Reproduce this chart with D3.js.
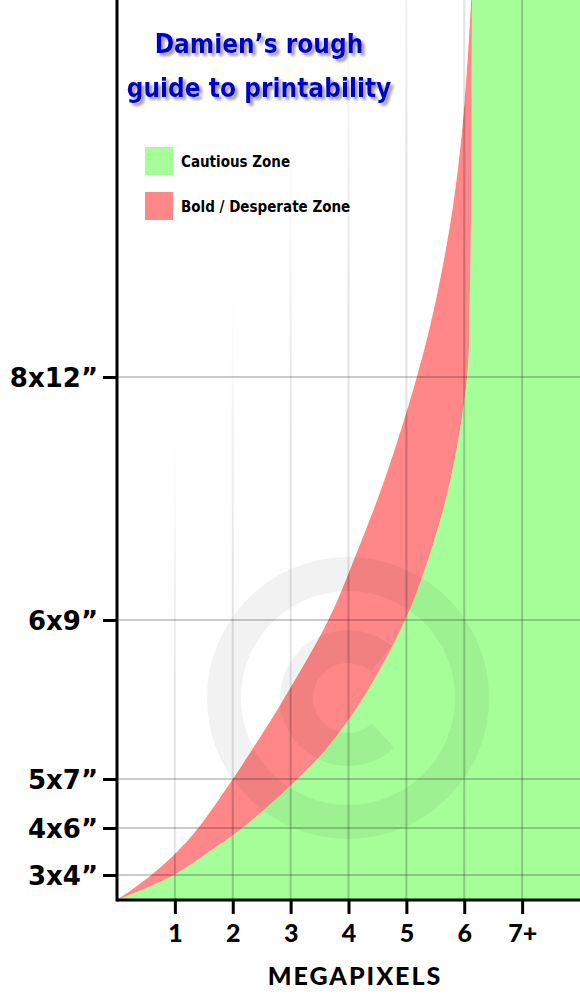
<!DOCTYPE html>
<html><head><meta charset="utf-8">
<script src="https://cdn.jsdelivr.net/npm/d3@7"></script>
<style>body{margin:0;background:#fff} svg{display:block}</style>
</head><body><svg id="c" width="580" height="1000"></svg>
<script>
// print-size level (vertical position index) and megapixels needed at that level
const printLevels = [0, 0.96, 1.96, 2.96, 4.84, 6, 8, 11.2, 14, 17, 20.92, 24, 28, 32, 36];
const boldMP      = [0, 0.57, 1.05, 1.43, 2.0, 2.33, 2.87, 3.65, 4.16, 4.65, 5.18, 5.51, 5.82, 6.01, 6.12];
const cautiousMP  = [0, 0.95, 1.61, 2.21, 3.12, 3.6, 4.23, 4.98, 5.43, 5.78, 6.05, 6.095, 6.12, 6.13, 6.135];
const xTickValues = [1, 2, 3, 4, 5, 6, 7];
const xTickLabels = ["1", "2", "3", "4", "5", "6", "7+"];
const yTickValues = [1, 2.88, 4.84, 11.2, 20.92];
const yTickLabels = ["3x4\u201D", "4x6\u201D", "5x7\u201D", "6x9\u201D", "8x12\u201D"];
const legendLabels = ["Cautious Zone", "Bold / Desperate Zone"];
const titleLines = ["Damien\u2019s rough", "guide to printability"];
const xTitle = "MEGAPIXELS";

const GREEN = "#a6fe98", RED = "#ff8787";
const svg = d3.select("#c");
const x = d3.scaleLinear().domain([0, 8]).range([117, 580]);
const y = d3.scaleLinear().domain([0, 36]).range([900, 0]);

const rows = printLevels.map((l, i) => ({level: l, bold: boldMP[i], cautious: cautiousMP[i]}));

const defs = svg.append("defs");
// white haze over the empty (white) zone, thicker toward the top-left
const g = defs.append("linearGradient").attr("id", "wfade").attr("gradientUnits", "userSpaceOnUse")
  .attr("x1", 290).attr("y1", 150).attr("x2", 393.5).attr("y2", 191.4);
g.append("stop").attr("offset", 0).attr("stop-color", "#fff").attr("stop-opacity", 1);
g.append("stop").attr("offset", 1).attr("stop-color", "#fff").attr("stop-opacity", 0.45);
const f = defs.append("filter").attr("id", "shadow").attr("x", "-10%").attr("y", "-30%").attr("width", "130%").attr("height", "170%");
f.append("feDropShadow").attr("dx", 3).attr("dy", 3).attr("stdDeviation", 1.6)
  .attr("flood-color", "#777").attr("flood-opacity", 0.75);

const curve = d3.curveCatmullRom.alpha(0.5);
// areas
svg.append("path").datum(rows)
  .attr("d", d3.area().curve(curve).y(d => y(d.level)).x0(d => x(d.cautious)).x1(x(8)))
  .attr("fill", GREEN);
svg.append("path").datum(rows)
  .attr("d", d3.area().curve(curve).y(d => y(d.level)).x0(d => x(d.bold)).x1(d => x(d.cautious)))
  .attr("fill", RED);

// vertical grid
svg.append("g").selectAll("line").data(xTickValues).join("line")
  .attr("x1", d => x(d)).attr("x2", d => x(d)).attr("y1", 0).attr("y2", y(0))
  .attr("stroke", "#000").attr("stroke-opacity", 0.2).attr("stroke-width", 2);
// haze over white zone
svg.append("path").datum(rows)
  .attr("d", d3.area().curve(curve).y(d => y(d.level)).x0(x(0)).x1(d => x(d.bold)))
  .attr("fill", "url(#wfade)");
// horizontal grid
svg.append("g").selectAll("line").data(yTickValues).join("line")
  .attr("x1", x(0)).attr("x2", x(8)).attr("y1", d => y(d)).attr("y2", d => y(d))
  .attr("stroke", "#000").attr("stroke-opacity", 0.2).attr("stroke-width", 2);

// watermark
const wm = svg.append("g").attr("transform", "translate(348,698)").attr("fill", "#000").attr("fill-opacity", 0.05);
wm.append("path").attr("d", d3.arc().innerRadius(107).outerRadius(141).startAngle(0).endAngle(2 * Math.PI)());
wm.append("path").attr("d", d3.arc().innerRadius(35).outerRadius(68).startAngle(2.39).endAngle(2 * Math.PI + 0.7)());

// axes
const xAxis = svg.append("g").attr("transform", `translate(0,${y(0)})`)
  .call(d3.axisBottom(x).tickValues(xTickValues).tickFormat((d, i) => xTickLabels[i]).tickSize(14).tickSizeOuter(0));
const yAxis = svg.append("g").attr("transform", `translate(${x(0)},0)`)
  .call(d3.axisLeft(y).tickValues(yTickValues).tickFormat((d, i) => yTickLabels[i]).tickSize(14).tickSizeOuter(0));
[xAxis, yAxis].forEach(a => {
  a.select(".domain").attr("stroke", "#000").attr("stroke-width", 3);
  a.selectAll(".tick line").attr("stroke", "#000").attr("stroke-width", 3);
});
xAxis.select(".domain").attr("d", `M${x(0)},0H${x(8)}`);
yAxis.select(".domain").attr("d", `M0,${y(0) + 1.5}V0`);
xAxis.selectAll(".tick text").attr("y", 24).attr("dy", "0.71em").attr("fill", "#000")
  .attr("font-family", "Lato, sans-serif").attr("font-weight", 900).attr("font-size", 25);
yAxis.selectAll(".tick text").attr("x", -19).attr("dy", "0.36em").attr("fill", "#000")
  .attr("font-family", "'DejaVu Sans', sans-serif").attr("font-weight", "bold").attr("font-size", 26);

svg.append("text").attr("x", 355).attr("y", 985).attr("text-anchor", "middle")
  .attr("font-family", "Lato, sans-serif").attr("font-weight", 900).attr("font-size", 25)
  .attr("letter-spacing", 2).text(xTitle);

// title
svg.append("g").selectAll("text").data(titleLines).join("text")
  .attr("x", 259).attr("y", (d, i) => 53 + i * 44).attr("text-anchor", "middle")
  .attr("font-family", "'DejaVu Sans Condensed', 'DejaVu Sans', sans-serif").attr("font-weight", "bold")
  .attr("font-size", 26).attr("fill", "#0000c8").attr("filter", "url(#shadow)").text(d => d);

// legend
const lg = svg.append("g").selectAll("g").data(legendLabels).join("g")
  .attr("transform", (d, i) => `translate(145,${147 + i * 45})`);
lg.append("rect").attr("width", 28).attr("height", 28).attr("fill", (d, i) => i ? RED : GREEN);
lg.append("text").attr("x", 36).attr("y", 20)
  .attr("font-family", "'DejaVu Sans Condensed', 'DejaVu Sans', sans-serif").attr("font-weight", "bold")
  .attr("font-size", 15).attr("fill", "#000").text(d => d);
</script></body></html>
